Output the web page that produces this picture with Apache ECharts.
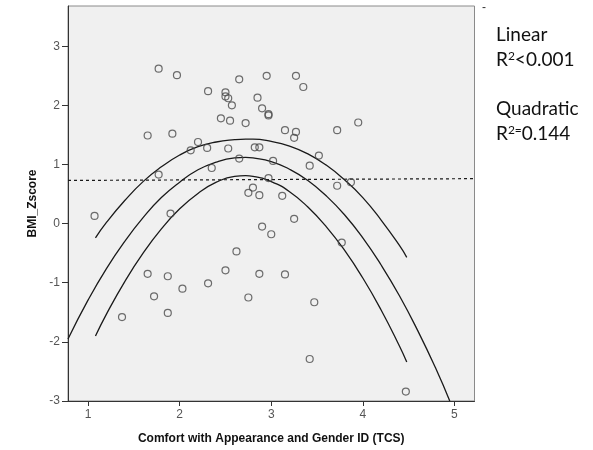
<!DOCTYPE html>
<html>
<head>
<meta charset="utf-8">
<script src="https://cdn.jsdelivr.net/npm/echarts@6/dist/echarts.min.js"></script>
<style>html,body{margin:0;padding:0;background:#fff}#c{width:593px;height:450px}</style>
</head>
<body>
<div id="c"></div>
<script>
// Scatter data: Comfort with Appearance and Gender ID (TCS) vs BMI_Zscore
var tcs = [1.77,1.97,2.31,1.65,1.92,2.20,2.12,2.30,1.77,2.65,2.95,3.27,3.35,2.50,2.50,2.53,2.85,2.57,2.90,2.97,2.97,2.45,2.55,2.72,3.15,3.27,3.25,3.72,3.95,2.53,2.82,2.87,2.65,3.02,3.52,3.42,2.35,2.97,2.80,3.72,3.87,2.75,2.87,3.12,3.25,2.90,3.00,2.62,2.50,2.87,3.15,2.31,2.75,3.47,3.77,1.07,1.90,1.65,1.87,2.03,1.72,1.37,1.87,3.42,4.47];
var bmiZ = [2.62,2.51,2.24,1.49,1.52,1.38,1.24,1.28,0.83,2.44,2.50,2.50,2.31,2.22,2.15,2.12,2.13,2.00,1.95,1.85,1.83,1.78,1.74,1.70,1.58,1.55,1.45,1.58,1.71,1.27,1.29,1.29,1.10,1.06,1.15,0.98,0.94,0.77,0.61,0.64,0.70,0.52,0.48,0.47,0.08,-0.05,-0.18,-0.47,-0.79,-0.85,-0.86,-1.01,-1.25,-1.33,-0.32,0.13,0.17,-0.85,-0.89,-1.10,-1.23,-1.58,-1.51,-2.29,-2.84];

// Linear fit (dashed), read at axis ends
var linX = [0.78, 5.22];
var linY = [0.73, 0.76];

// Quadratic fit (full range)
var fitX = [0.78,1.0,1.2,1.4,1.6,1.8,2.0,2.2,2.4,2.6,2.72,2.8,3.0,3.2,3.4,3.6,3.8,4.0,4.2,4.4,4.6,4.8,4.95];
var fitY = [-1.95,-1.29,-0.76,-0.30,0.10,0.44,0.70,0.91,1.04,1.11,1.12,1.11,1.05,0.92,0.73,0.47,0.15,-0.24,-0.70,-1.22,-1.81,-2.46,-3.00];

// Confidence band curves (data range only)
var bandX = [1.08,1.2,1.4,1.6,1.8,2.0,2.2,2.4,2.6,2.72,2.8,3.0,3.2,3.4,3.6,3.8,4.0,4.2,4.4,4.48];
var upperY = [-0.24,0.02,0.39,0.71,0.96,1.16,1.30,1.38,1.42,1.43,1.43,1.39,1.31,1.18,0.99,0.74,0.44,0.06,-0.37,-0.57];
var lowerY = [-1.90,-1.53,-0.98,-0.50,-0.09,0.25,0.51,0.70,0.80,0.81,0.80,0.71,0.54,0.28,-0.05,-0.45,-0.92,-1.46,-2.07,-2.34];

var xTicks = [1,2,3,4,5];
var yTicks = [-3,-2,-1,0,1,2,3];

function pairs(a, b){ return a.map(function(v,i){ return [v, b[i]]; }); }

var chart = echarts.init(document.getElementById('c'), null, {renderer:'canvas'});
var lineStyle = {color:'#1a1a1a', width:1.3};
var supStyle = {sup:{fontSize:12, fontFamily:'Lato', fill:'#111', verticalAlign:'top', padding:[0,0,7,0]}};
chart.setOption({
  animation:false,
  backgroundColor:'#ffffff',
  grid:{left:68, top:6, right:118.5, bottom:47, show:true, backgroundColor:'#f0f0f0', borderColor:'#8a8a8a', borderWidth:1},
  xAxis:{
    type:'value', min:0.78, max:5.22,
    name:'Comfort with Appearance and Gender ID (TCS)', nameLocation:'middle', nameGap:32,
    nameTextStyle:{fontFamily:'Liberation Sans', fontWeight:'bold', fontSize:12, color:'#111'},
    axisLine:{show:true, onZero:false, lineStyle:{color:'#333', width:1}},
    axisTick:{show:true, length:5, customValues:xTicks, lineStyle:{color:'#333'}},
    axisLabel:{customValues:xTicks, margin:8, fontFamily:'Liberation Sans', fontSize:12, color:'#555'},
    splitLine:{show:false}
  },
  yAxis:{
    type:'value', min:-3, max:3.68,
    name:'BMI_Zscore', nameLocation:'middle', nameGap:24,
    nameTextStyle:{fontFamily:'Liberation Sans', fontWeight:'bold', fontSize:12, color:'#111'},
    axisLine:{show:true, onZero:false, lineStyle:{color:'#333', width:1}},
    axisTick:{show:true, length:6, customValues:yTicks, lineStyle:{color:'#333'}},
    axisLabel:{customValues:yTicks, margin:8, fontFamily:'Liberation Sans', fontSize:12, color:'#555'},
    splitLine:{show:false}
  },
  series:[
    {type:'line', data:pairs(linX, linY), showSymbol:false, lineStyle:{color:'#1a1a1a', width:1.2, type:[3,3]}, z:2},
    {type:'line', data:pairs(fitX, fitY), showSymbol:false, smooth:true, lineStyle:lineStyle, z:2},
    {type:'line', data:pairs(bandX, upperY), showSymbol:false, smooth:true, lineStyle:lineStyle, z:2},
    {type:'line', data:pairs(bandX, lowerY), showSymbol:false, smooth:true, lineStyle:lineStyle, z:2},
    {type:'scatter', data:pairs(tcs, bmiZ), symbol:'circle', symbolSize:7,
     itemStyle:{color:'rgba(0,0,0,0)', borderColor:'#4a4a4a', borderWidth:1.2}, z:3}
  ],
  graphic:[
    {type:'text', left:482, top:2, style:{text:'-', font:'12px Liberation Sans', fill:'#333'}},
    {type:'text', left:496, top:25, style:{text:'Linear', font:'19px Lato', fill:'#111'}},
    {type:'text', left:496, top:50, style:{text:'R{sup|2}<0.001', font:'19px Lato', fill:'#111', rich:supStyle}},
    {type:'text', left:496, top:99, style:{text:'Quadratic', font:'19px Lato', fill:'#111'}},
    {type:'text', left:496, top:124, style:{text:'R{sup|2=}0.144', font:'19px Lato', fill:'#111', rich:supStyle}}
  ]
});
</script>
</body>
</html>
